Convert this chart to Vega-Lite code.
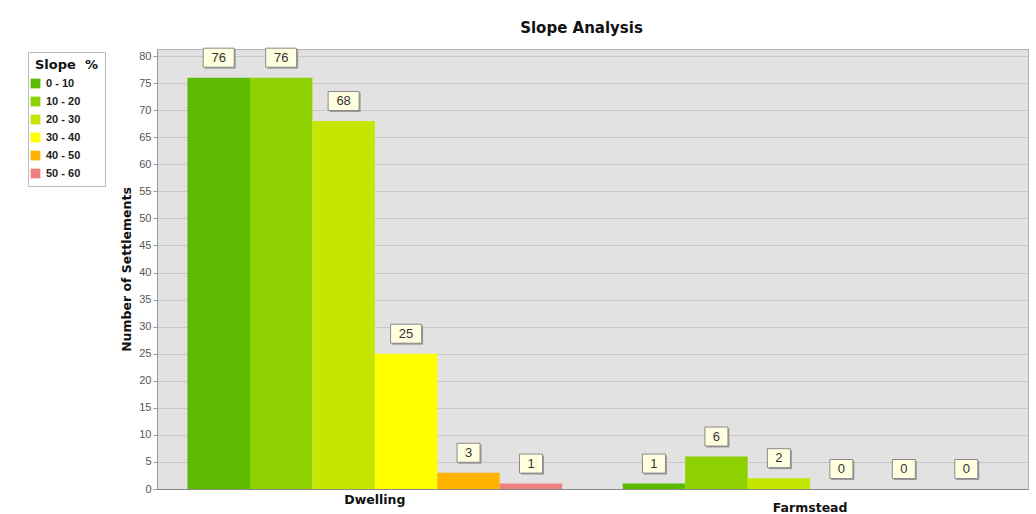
{
  "$schema": "https://vega.github.io/schema/vega-lite/v6.json",
  "width": 871,
  "height": 440,
  "autosize": {"type": "none"},
  "padding": {"left": 157, "top": 49, "right": 8, "bottom": 25},
  "background": "white",
  "title": {
    "text": "Slope Analysis",
    "fontSize": 15,
    "fontWeight": "bold",
    "font": "DejaVu Sans",
    "color": "#111111",
    "anchor": "middle",
    "dx": -11,
    "offset": 10
  },
  "config": {
    "font": "Liberation Sans",
    "view": {"fill": "#e2e2e2", "stroke": "#b0b0b0"}
  },
  "data": {
    "values": [
      {"type": "Dwelling", "slope": "0 - 10", "count": 76},
      {"type": "Dwelling", "slope": "10 - 20", "count": 76},
      {"type": "Dwelling", "slope": "20 - 30", "count": 68},
      {"type": "Dwelling", "slope": "30 - 40", "count": 25},
      {"type": "Dwelling", "slope": "40 - 50", "count": 3},
      {"type": "Dwelling", "slope": "50 - 60", "count": 1},
      {"type": "Farmstead", "slope": "0 - 10", "count": 1},
      {"type": "Farmstead", "slope": "10 - 20", "count": 6},
      {"type": "Farmstead", "slope": "20 - 30", "count": 2},
      {"type": "Farmstead", "slope": "30 - 40", "count": 0},
      {"type": "Farmstead", "slope": "40 - 50", "count": 0},
      {"type": "Farmstead", "slope": "50 - 60", "count": 0}
    ]
  },
  "encoding": {
    "x": {
      "field": "type",
      "type": "nominal",
      "sort": ["Dwelling", "Farmstead"],
      "scale": {"paddingInner": 0.139, "paddingOuter": 0.07},
      "axis": {
        "title": null,
        "labelAngle": 0,
        "labelFont": "DejaVu Sans",
        "labelFontSize": 12.5,
        "labelFontWeight": "bold",
        "labelColor": "#111111",
        "ticks": false,
        "domainColor": "#888888",
        "labelPadding": {"condition": {"test": "datum.value === 'Farmstead'", "value": 12}, "value": 4}
      }
    },
    "xOffset": {
      "field": "slope",
      "type": "nominal",
      "sort": ["0 - 10", "10 - 20", "20 - 30", "30 - 40", "40 - 50", "50 - 60"],
      "scale": {"paddingInner": 0, "paddingOuter": 0}
    },
    "y": {
      "field": "count",
      "type": "quantitative",
      "scale": {"domain": [0, 81.3], "nice": false},
      "axis": {
        "title": "Number of Settlements",
        "titleFont": "DejaVu Sans",
        "titleFontSize": 12.5,
        "titleFontWeight": "bold",
        "titleColor": "#111111",
        "titlePadding": 5,
        "values": [0, 5, 10, 15, 20, 25, 30, 35, 40, 45, 50, 55, 60, 65, 70, 75, 80],
        "labelFontSize": 11,
        "labelColor": "#555555",
        "tickSize": 4,
        "tickColor": "#999999",
        "labelPadding": 2,
        "domainColor": "#999999",
        "gridColor": "#c8c8c8",
        "gridWidth": 1
      }
    }
  },
  "layer": [
    {
      "mark": {"type": "bar"},
      "encoding": {
        "color": {
          "field": "slope",
          "type": "nominal",
          "scale": {
            "domain": ["0 - 10", "10 - 20", "20 - 30", "30 - 40", "40 - 50", "50 - 60"],
            "range": ["#5cba00", "#8dd200", "#c4e600", "#ffff00", "#ffb300", "#f08080"]
          },
          "legend": {
            "title": "Slope\u00a0\u00a0%",
            "orient": "none",
            "legendX": -129,
            "legendY": 3,
            "padding": 7,
            "strokeColor": "#bbbbbb",
            "fillColor": "white",
            "titleFont": "DejaVu Sans",
            "titleFontSize": 13,
            "titleFontWeight": "bold",
            "titleColor": "#111111",
            "titlePadding": 6,
            "labelFont": "Liberation Sans",
            "labelFontSize": 11,
            "labelFontWeight": "bold",
            "labelColor": "#222222",
            "symbolType": "square",
            "symbolSize": 95,
            "symbolStrokeWidth": 0,
            "symbolOffset": -5,
            "rowPadding": 6,
            "labelOffset": 5,
            "offset": 0
          }
        }
      }
    },
    {
      "mark": {"type": "point", "filled": true, "fill": "#9a9a9a", "opacity": 1, "size": 100, "strokeWidth": 0},
      "encoding": {
        "shape": {
          "condition": {"test": "datum.count >= 10", "value": "M-2.8,-5.6L3.4,-5.6L3.4,-1.8L-2.8,-1.8Z"},
          "value": "M-2.0,-5.6L2.6,-5.6L2.6,-1.8L-2.0,-1.8Z"
        }
      }
    },
    {
      "mark": {"type": "point", "filled": true, "fill": "#ffffe0", "stroke": "#8a8a8a", "strokeWidth": 1, "opacity": 1, "size": 100},
      "encoding": {
        "shape": {
          "condition": {"test": "datum.count >= 10", "value": "M-3.1,-5.9L3.1,-5.9L3.1,-2.1L-3.1,-2.1Z"},
          "value": "M-2.3,-5.9L2.3,-5.9L2.3,-2.1L-2.3,-2.1Z"
        }
      }
    },
    {
      "mark": {"type": "text", "dy": -20, "baseline": "middle", "fontSize": 13, "color": "#333333"},
      "encoding": {"text": {"field": "count", "type": "quantitative"}}
    }
  ]
}
